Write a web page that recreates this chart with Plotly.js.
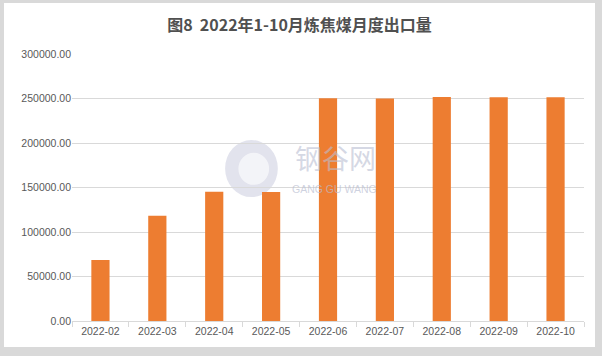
<!DOCTYPE html>
<html>
<head>
<meta charset="utf-8">
<script src="https://cdn.plot.ly/plotly-3.0.1.min.js"></script>
<style>
  html, body { margin:0; padding:0; width:602px; height:356px; background:#d9d9d9; overflow:hidden; }
  #chart { position:absolute; left:4px; top:3px; width:591px; height:344px; background:#fff; }
</style>
</head>
<body>
<div id="chart"></div>
<script>
const categories = ["2022-02","2022-03","2022-04","2022-05","2022-06","2022-07","2022-08","2022-09","2022-10"];
const exportVolume = [68500, 118300, 145200, 145000, 250200, 250100, 251600, 251500, 251500];
const yTicks = [0, 50000, 100000, 150000, 200000, 250000, 300000];
const titleText = "图8  2022年1-10月炼焦煤月度出口量";

const trace = {
  type: "bar",
  x: categories,
  y: exportVolume,
  marker: { color: "#ED7D31" },
  hoverinfo: "x+y"
};

const layout = {
  width: 591, height: 344,
  margin: { l: 68, r: 11, t: 51, b: 26 },
  paper_bgcolor: "#ffffff",
  plot_bgcolor: "#ffffff",
  bargap: 0.68,
  showlegend: false,
  title: {
    text: titleText,
    x: 0.5, xanchor: "center",
    y: 0.935, yref: "container", yanchor: "middle",
    font: { family: "Noto Sans CJK SC", size: 16, color: "#505050", weight: "bold" }
  },
  xaxis: {
    type: "category",
    tickfont: { family: "Liberation Sans", size: 10.5, color: "#595959" },
    showgrid: false,
    showline: true, linecolor: "#d9d9d9", linewidth: 1,
    ticks: "outside", tickson: "boundaries", ticklen: 5, tickcolor: "#d9d9d9",
    fixedrange: true
  },
  yaxis: {
    range: [0, 300000],
    tickvals: yTicks,
    tickformat: ".2f",
    tickfont: { family: "Liberation Sans", size: 10.5, color: "#595959" },
    showgrid: true, gridcolor: "#d9d9d9", gridwidth: 1,
    zeroline: false, showline: false, ticks: "",
    fixedrange: true
  },
  shapes: [
    { type: "circle", xref: "paper", yref: "paper", x0: 0.299, x1: 0.402, y0: 0.464, y1: 0.678,
      fillcolor: "rgba(190,194,214,0.45)", line: { width: 0 }, layer: "below" },
    { type: "circle", xref: "paper", yref: "paper", x0: 0.325, x1: 0.385, y0: 0.51, y1: 0.63,
      fillcolor: "rgba(255,255,255,0.6)", line: { width: 0 }, layer: "below" }
  ],
  annotations: [
    { text: "钢谷网", xref: "paper", yref: "paper", x: 0.514, y: 0.612, showarrow: false,
      font: { family: "Noto Sans CJK SC", size: 27, color: "rgba(185,190,210,0.6)" } },
    { text: "GANG GU WANG", xref: "paper", yref: "paper", x: 0.512, y: 0.495, showarrow: false,
      font: { family: "Liberation Sans", size: 10.5, color: "rgba(185,190,210,0.7)" } }
  ]
};

Plotly.newPlot("chart", [trace], layout, { displayModeBar: false, staticPlot: true });
</script>
</body>
</html>
